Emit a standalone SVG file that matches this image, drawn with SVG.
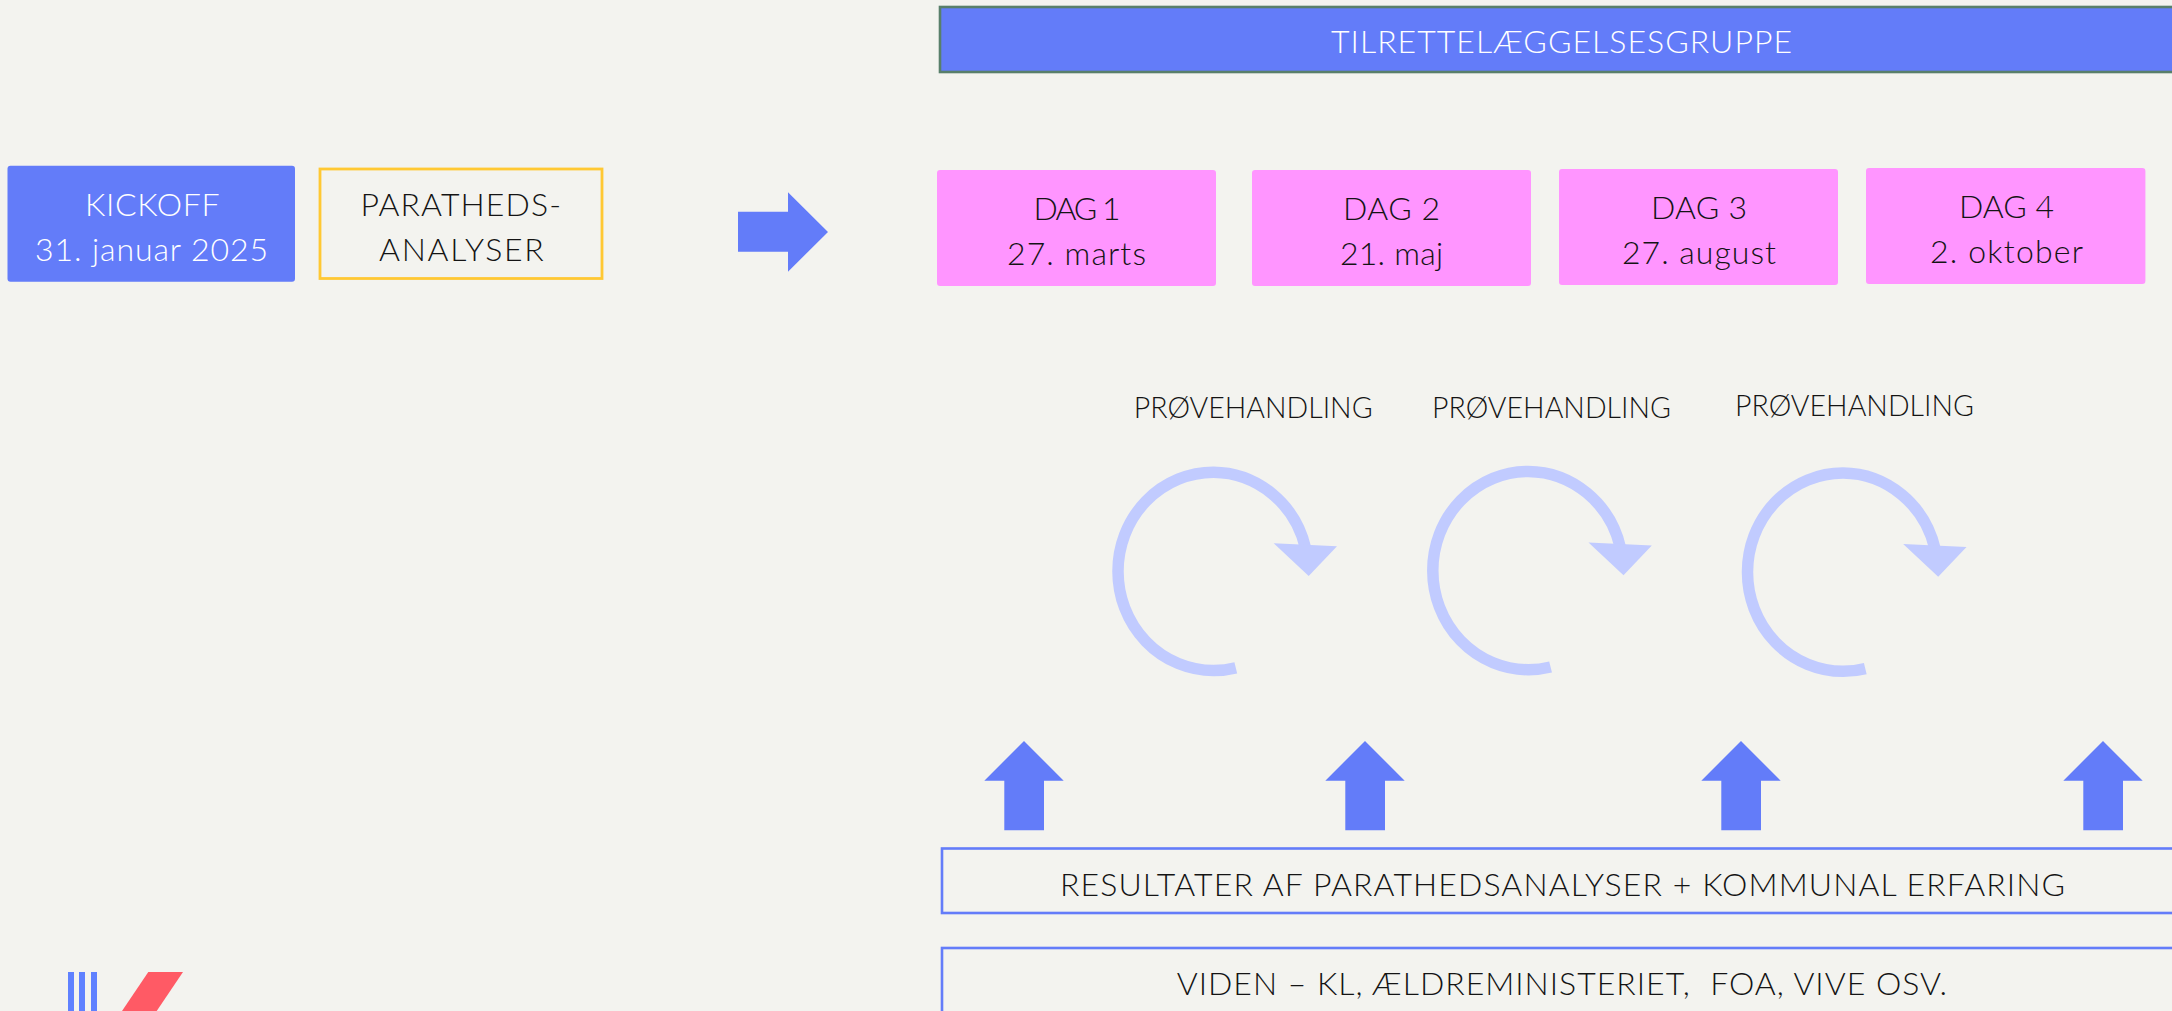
<svg xmlns="http://www.w3.org/2000/svg" width="2172" height="1011" viewBox="0 0 2172 1011">
<style>
text{font-family:"Lato","Liberation Sans",sans-serif;font-weight:300;fill:#141414;white-space:pre}
.w{fill:#ffffff}
.f32{font-size:32px}
.f28{font-size:28.5px}
.blue{fill:#637cf9}
.pink{fill:#ff95ff}
.line{fill:none;stroke:#637cf9;stroke-width:2.6}
.loop{fill:none;stroke:#c1cbff;stroke-width:11.5}
.loophead{fill:#c1cbff}
</style>
<defs>
<path id="up" class="blue" d="M1024 741L1063.7 780.7H1044V830.3H1004.3V780.7H984.3Z"/>
<g id="loop">
<path class="loop" d="M1235.8 667.8A95.500 99 0 0 1 1213.500 670.500A95.500 99 0 0 1 1118 571.300A95.500 99 0 0 1 1213.500 472.200A95.500 99 0 0 1 1305.500 548"/>
<path class="loophead" d="M1273.7 543.3L1337 546.3L1308.7 576Z"/>
</g>
</defs>
<rect width="2172" height="1011" fill="#f3f3ef"/>
<g id="tilrettelaeggelsesgruppe">
<rect x="940" y="7" width="1240" height="65" fill="#637cf9" stroke="#587f6a" stroke-width="2.6"/>
<text class="w f32" x="1331" y="53" textLength="461">TILRETTELÆGGELSESGRUPPE</text>
</g>
<g id="kickoff">
<rect x="7.5" y="165.7" width="287.5" height="116" rx="3" fill="#637cf9"/>
<text class="w f32" x="85" y="216" textLength="134.5">KICKOFF</text>
<text class="w f32" x="35" y="261" textLength="233">31. januar 2025</text>
</g>
<g id="parathedsanalyser">
<rect x="320" y="169" width="282" height="109.500" fill="none" stroke="#ffc833" stroke-width="2.8"/>
<text class="f32" x="360.400" y="215.700" textLength="200.600">PARATHEDS-</text>
<text class="f32" x="379" y="261" textLength="164.600">ANALYSER</text>
</g>
<g id="dag1">
<rect class="pink" x="937" y="170" width="279" height="116" rx="3"/>
<text class="f32" x="1033.600" y="220" textLength="87">DAG 1</text>
<text class="f32" x="1007" y="265.300" textLength="139">27. marts</text>
</g>
<g id="dag2">
<rect class="pink" x="1252" y="170" width="279" height="116" rx="3"/>
<text class="f32" x="1343" y="220" textLength="97">DAG 2</text>
<text class="f32" x="1340" y="265.300" textLength="103">21. maj</text>
</g>
<g id="dag3">
<rect class="pink" x="1559" y="169" width="279" height="116" rx="3"/>
<text class="f32" x="1651" y="219" textLength="96">DAG 3</text>
<text class="f32" x="1622" y="264" textLength="154">27. august</text>
</g>
<g id="dag4">
<rect class="pink" x="1866" y="168" width="279.400" height="116" rx="3"/>
<text class="f32" x="1959" y="218" textLength="95">DAG 4</text>
<text class="f32" x="1930" y="263" textLength="153">2. oktober</text>
</g>
<g id="proevehandling1">
<text class="f28" x="1133.800" y="418" textLength="238.800">PRØVEHANDLING</text>
<use href="#loop"/>
</g>
<g id="proevehandling2">
<text class="f28" x="1432" y="418" textLength="239">PRØVEHANDLING</text>
<use href="#loop" x="314.800" y="-0.800"/>
</g>
<g id="proevehandling3">
<text class="f28" x="1735" y="415.800" textLength="239">PRØVEHANDLING</text>
<use href="#loop" x="629.500" y="0.800"/>
</g>
<g id="resultater">
<rect class="line" x="942" y="848.500" width="1240" height="64.500"/>
<text class="f32" x="1060" y="895.700" textLength="1005">RESULTATER AF PARATHEDSANALYSER + KOMMUNAL ERFARING</text>
</g>
<g id="viden">
<rect class="line" x="942" y="948" width="1240" height="80"/>
<text class="f32" x="1176.700" y="995" textLength="770.300">VIDEN – KL, ÆLDREMINISTERIET,  FOA, VIVE OSV.</text>
</g>
<g id="logo">
<rect x="68" y="972" width="6" height="39" fill="#5f81ff"/>
<rect x="79" y="972" width="6" height="39" fill="#5f81ff"/>
<rect x="91" y="972" width="6" height="39" fill="#5f81ff"/>
<path d="M148.300 972H183L156.700 1011H122Z" fill="#ff5a65"/>
</g>
<g id="connectors">
<path class="blue" d="M738 211.700H788V192.300L828 232L788 271.700V251.700H738Z"/>
<use href="#up"/>
<use href="#up" x="341"/>
<use href="#up" x="717"/>
<use href="#up" x="1079"/>
</g>
</svg>
